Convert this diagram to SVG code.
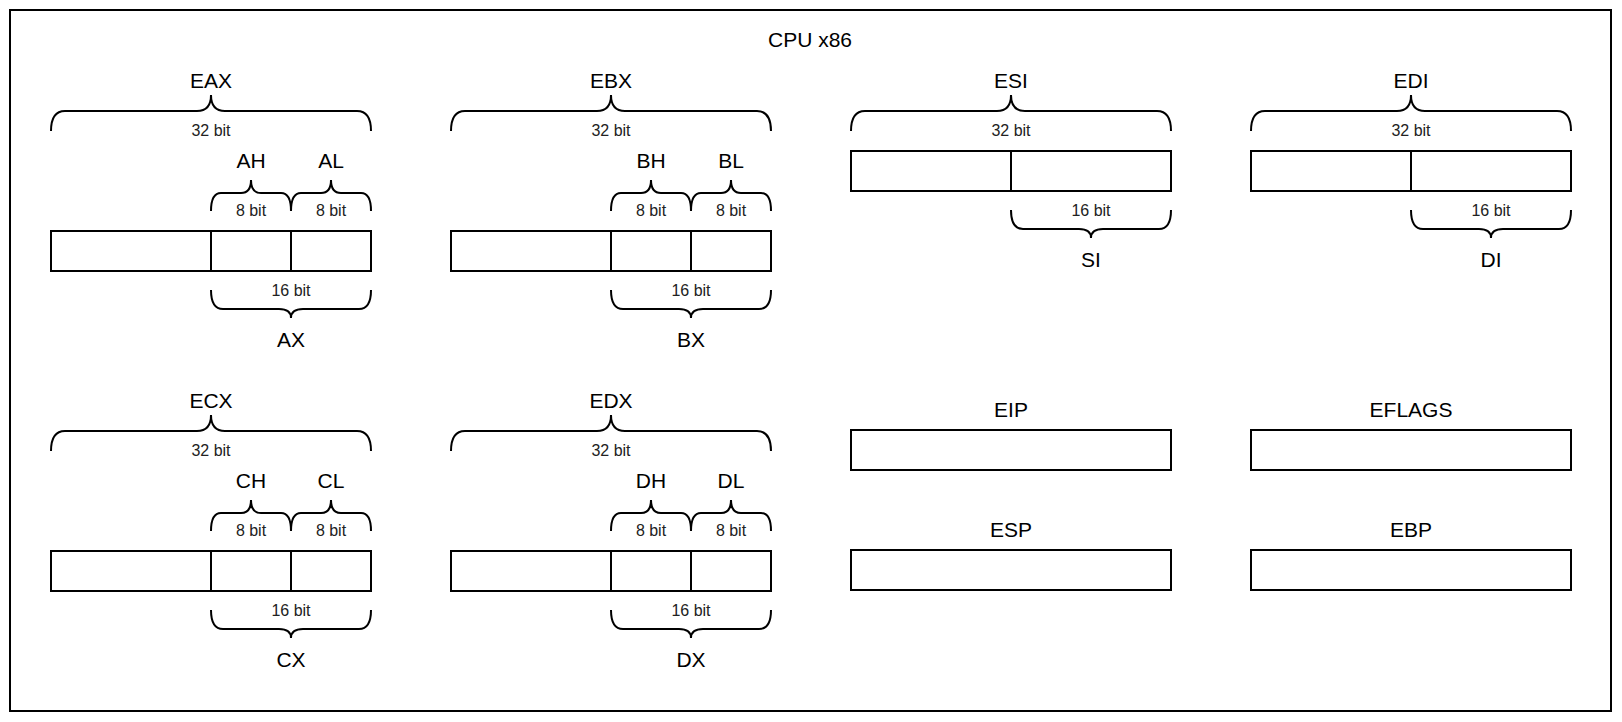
<svg xmlns="http://www.w3.org/2000/svg" xmlns:xlink="http://www.w3.org/1999/xlink" width="1622" height="722" viewBox="0 0 1622 722">
<style>
.s{fill:none;stroke:#000;stroke-width:2}
.b{fill:#fff;stroke:#000;stroke-width:2}
text{font-family:"Liberation Sans",Arial,sans-serif;text-anchor:middle;fill:#000}
.l{font-size:21px}
.t{font-size:16px;fill:#222}
</style>
<defs>
<path id="br32" class="s" d="M0,36 Q0,16 14,16 L146,16 Q160,16 160,0 Q160,16 174,16 L306,16 Q320,16 320,36"/>
<path id="br8" class="s" d="M0,31 Q0,13 10,13 L30,13 Q40,13 40,0 Q40,13 50,13 L70,13 Q80,13 80,31"/>
<path id="br16" class="s" d="M0,0 Q0,19 12,19 L68,19 Q80,19 80,28 Q80,19 92,19 L148,19 Q160,19 160,0"/>
<g id="full">
<use xlink:href="#br32" x="0" y="95"/>
<text class="t" x="160" y="136">32 bit</text>
<use xlink:href="#br8" x="160" y="180"/>
<use xlink:href="#br8" x="240" y="180"/>
<text class="t" x="200" y="216">8 bit</text>
<text class="t" x="280" y="216">8 bit</text>
<rect class="b" x="0" y="231" width="320" height="40"/>
<path class="s" d="M160,231V271M240,231V271"/>
<text class="t" x="240" y="296">16 bit</text>
<use xlink:href="#br16" x="160" y="290"/>
</g>
<g id="half">
<use xlink:href="#br32" x="0" y="95"/>
<text class="t" x="160" y="136">32 bit</text>
<rect class="b" x="0" y="151" width="320" height="40"/>
<path class="s" d="M160,151V191"/>
<text class="t" x="240" y="216">16 bit</text>
<use xlink:href="#br16" x="160" y="210"/>
</g>
</defs>
<rect x="10" y="10" width="1601" height="701" fill="#fff" stroke="#000" stroke-width="2"/>
<text class="l" x="810" y="47">CPU x86</text>
<g id="eax" transform="translate(51,0)"><use xlink:href="#full"/><text class="l" x="160" y="88">EAX</text><text class="l" x="200" y="168">AH</text><text class="l" x="280" y="168">AL</text><text class="l" x="240" y="347">AX</text></g>
<g id="ebx" transform="translate(451,0)"><use xlink:href="#full"/><text class="l" x="160" y="88">EBX</text><text class="l" x="200" y="168">BH</text><text class="l" x="280" y="168">BL</text><text class="l" x="240" y="347">BX</text></g>
<g id="ecx" transform="translate(51,320)"><use xlink:href="#full"/><text class="l" x="160" y="88">ECX</text><text class="l" x="200" y="168">CH</text><text class="l" x="280" y="168">CL</text><text class="l" x="240" y="347">CX</text></g>
<g id="edx" transform="translate(451,320)"><use xlink:href="#full"/><text class="l" x="160" y="88">EDX</text><text class="l" x="200" y="168">DH</text><text class="l" x="280" y="168">DL</text><text class="l" x="240" y="347">DX</text></g>
<g id="esi" transform="translate(851,0)"><use xlink:href="#half"/><text class="l" x="160" y="88">ESI</text><text class="l" x="240" y="267">SI</text></g>
<g id="edi" transform="translate(1251,0)"><use xlink:href="#half"/><text class="l" x="160" y="88">EDI</text><text class="l" x="240" y="267">DI</text></g>
<g id="eip"><text class="l" x="1011" y="417">EIP</text><rect class="b" x="851" y="430" width="320" height="40"/></g>
<g id="eflags"><text class="l" x="1411" y="417">EFLAGS</text><rect class="b" x="1251" y="430" width="320" height="40"/></g>
<g id="esp"><text class="l" x="1011" y="537">ESP</text><rect class="b" x="851" y="550" width="320" height="40"/></g>
<g id="ebp"><text class="l" x="1411" y="537">EBP</text><rect class="b" x="1251" y="550" width="320" height="40"/></g>
<g id="connectors"/>
</svg>
